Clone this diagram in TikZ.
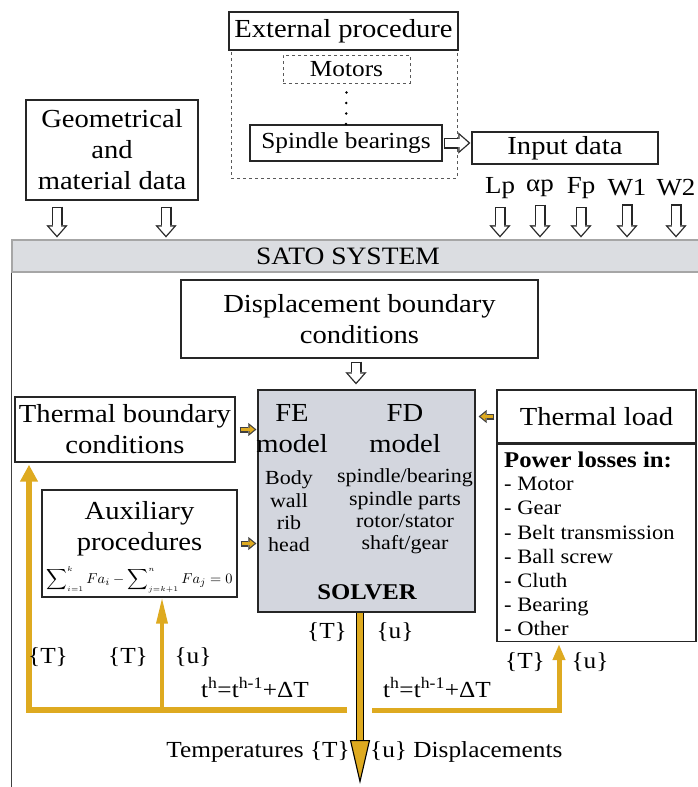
\documentclass[tikz,border=0pt]{standalone}
\usepackage{exscale}
\usepackage{graphicx}
\usepackage{fontspec}
\setmainfont{Liberation Serif}[FakeStretch=1.1]
\usepackage{tikz}
\usetikzlibrary{arrows.meta, positioning, calc}

\definecolor{gold}{RGB}{222,170,32}
\definecolor{bandgray}{RGB}{219,221,225}
\definecolor{solvergray}{RGB}{211,214,222}

\begin{document}
\begin{tikzpicture}[
    x=1pt, y=-1pt,
    box/.style={rectangle, draw=black!85, line width=1.4pt, inner sep=0pt, align=center,
                font=\fontsize{26}{31}\selectfont},
    inbox/.style={box, font=\fontsize{23}{27}\selectfont},
    hollow/.style={draw=black!85, line width=11pt, -{Triangle[length=12pt, width=21pt, line width=0.1pt]},
                   postaction={draw=white, line width=8.4pt, shorten <=1.3pt, shorten >=2pt,
                               -{Triangle[length=8.7pt, width=15.3pt, line width=0.1pt]}}},
    feed/.style={draw=black!75, line width=6pt, -{Triangle[length=8pt, width=13pt, line width=0.1pt]},
                 postaction={draw=gold, line width=3.6pt, shorten <=1.2pt, shorten >=1.9pt,
                             -{Triangle[length=4.9pt, width=8pt, line width=0.1pt]}}},
    yline/.style={draw=gold, line width=#1},
    outflow/.style={draw=black, line width=1.1pt, double=gold, double distance=6pt,
                    -{Triangle[length=44pt, width=20pt, fill=gold, line width=1.1pt]}},
    tag/.style={inner sep=0pt, font=\fontsize{23}{26}\selectfont},
    parts/.style={inner sep=0pt, align=center, font=\fontsize{20}{22.3}\selectfont}
]
\useasboundingbox (0,0) rectangle (698,787);

% data coming in
\node[box, minimum width=172pt, minimum height=100pt] (geom) at (112,150) {Geometrical\\and\\material data};
\node[box, dashed, draw=black!65, line width=1pt, minimum width=226pt, minimum height=128pt] (extframe) at (344,114) {};
\node[box, fill=white, minimum width=229pt, minimum height=38pt] (extproc) at (343.5,31) {External procedure};
\node[inbox, dashed, draw=black!65, line width=1pt, minimum width=127pt, minimum height=28pt] (motors) at (346.5,69) {Motors};
\node[inbox, minimum width=192pt, minimum height=36pt] (spindle) at (346,143) {Spindle bearings};
\node[box, minimum width=186pt, minimum height=32pt] (input) at (565,148) {Input data};
\draw[line width=2.8pt, line cap=round, dash pattern=on 0pt off 10.5pt] ([yshift=-9pt]motors.south) -- (spindle.north);
\draw[hollow] ([xshift=1pt]spindle.east) -- ($(spindle.east -| input.west)+(-1,0)$);

% system band
\node[rectangle, draw=black!35, line width=1.2pt, fill=bandgray, inner sep=0pt,
      minimum width=700pt, minimum height=32pt] (sato) at (362,256) {};
\node[font=\fontsize{25}{28}\selectfont, inner sep=0pt] (satolbl) at (348,256) {SATO SYSTEM};
\draw[line width=1.1pt, draw=black!75] (sato.south west) -- ++(0,520);

\foreach \name/\xpos/\txt in {lp/500/Lp, ap/540/αp, fp/581/Fp, wa/627/W1, wb/676/W2} {
    \node[tag, font=\fontsize{24.5}{26}\selectfont] (\name) at (\xpos,188) {\txt};
    \draw[hollow] ([yshift=-8pt]\name.south) -- ($(\name.south |- sato.north)+(0,-2)$);
}
\foreach \xpos in {57,166} {
    \draw[hollow] ([yshift=-6pt]geom.south -| \xpos,0) -- ($(\xpos,0 |- sato.north)+(0,-2)$);
}

% solver and what feeds it
\node[box, minimum width=357pt, minimum height=78pt] (disp) at (359.5,319) {Displacement boundary\\conditions};
\node[box, fill=solvergray, minimum width=217pt, minimum height=222pt] (solver) at (366.5,501) {};
\draw[hollow] ([yshift=-3pt]disp.south -| 356,0) -- ($(356,0 |- solver.north)+(0,-5)$);
\node[box, draw=none] (fe) at (292,429) {FE\\model};
\node[box, draw=none] (fd) at (405,429) {FD\\model};
\node[parts] (feparts) at (289,511.5) {Body\\wall\\rib\\head};
\node[parts] (fdparts) at (405,511.5) {spindle/bearing\\spindle parts\\rotor/stator\\shaft/gear};
\node[inner sep=0pt, font=\bfseries\fontsize{22.5}{25}\selectfont] (solverlbl) at (367,592) {SOLVER};

\node[box, minimum width=220pt, minimum height=65pt] (tbc) at (125,429.5) {Thermal boundary\\conditions};
\node[box, minimum width=195pt, minimum height=107pt] (aux) at (139.5,543.5) {};
\node[box, draw=none] (auxlbl) at (139.5,529) {Auxiliary\\procedures};
\node[inner sep=0pt] (auxeq) at (139.5,580)
    {\resizebox{186pt}{!}{$\displaystyle\sum\nolimits_{\scriptscriptstyle i=1}^{\scriptscriptstyle k}Fa_i-\sum\nolimits_{\scriptscriptstyle j=k+1}^{\scriptscriptstyle n}Fa_j=0$}};

\node[box, minimum width=199pt, minimum height=53pt] (tload) at (596.5,416.5) {Thermal load};
\node[box, anchor=north, minimum width=199pt, minimum height=197pt] (plosses) at (tload.south) {};
\node[inner sep=0pt, anchor=west, font=\bfseries\fontsize{22.5}{25}\selectfont] (plhead) at (504,460) {Power losses in:};
\node[inner sep=0pt, anchor=north west, align=left, font=\fontsize{20.5}{24.2}\selectfont] (pllist) at (504,477)
    {- Motor\\- Gear\\- Belt transmission\\- Ball screw\\- Cluth\\- Bearing\\- Other};

\draw[feed] ([xshift=4pt]tbc.east) -- ($(tbc.east -| solver.west)+(-1,0)$);
\draw[feed] ([xshift=3pt]aux.east) -- ($(aux.east -| solver.west)+(-1,0)$);
\draw[feed] ([xshift=-2pt]tload.west) -- ($(tload.west -| solver.east)+(3,0)$);

% results and the loop back
\coordinate (outtip) at (360,784);
\draw[outflow] (solver.south -| outtip) -- (outtip);
\coordinate (lback) at (347,710);
\coordinate (lcorner) at (29,710);
\coordinate (auxfoot) at (162,710);
\coordinate (rback) at (372,710);
\coordinate (rcorner) at (559,710);
\draw[yline=6pt, -{Triangle[length=17pt, width=17pt]}, shorten >=2pt] (lback) -- (lcorner) -- (lcorner |- tbc.south);
\draw[yline=3.5pt, -{Triangle[length=26pt, width=11pt]}] (auxfoot) -- (auxfoot |- aux.south);
\draw[yline=5pt, -{Triangle[length=16pt, width=12pt]}, shorten >=2pt] (rback) -- (rcorner) -- (rcorner |- plosses.south);

\node[tag] (tleft) at (48,657) {\{T\}};
\node[tag] (taux) at (128,657) {\{T\}};
\node[tag] (uaux) at (193,657) {\{u\}};
\node[tag] (tsol) at (327,632) {\{T\}};
\node[tag] (usol) at (395,632) {\{u\}};
\node[tag] (tright) at (525,662) {\{T\}};
\node[tag] (uright) at (590,662) {\{u\}};
\node[tag] (stepl) at (255,688) {t\textsuperscript{h}=t\textsuperscript{h-1}+ΔT};
\node[tag] (stepr) at (437,688) {t\textsuperscript{h}=t\textsuperscript{h-1}+ΔT};
\node[tag, anchor=east] (temps) at (350,752) {Temperatures \{T\}};
\node[tag, anchor=west] (disps) at (370,752) {\{u\} Displacements};
\end{tikzpicture}
\end{document}
